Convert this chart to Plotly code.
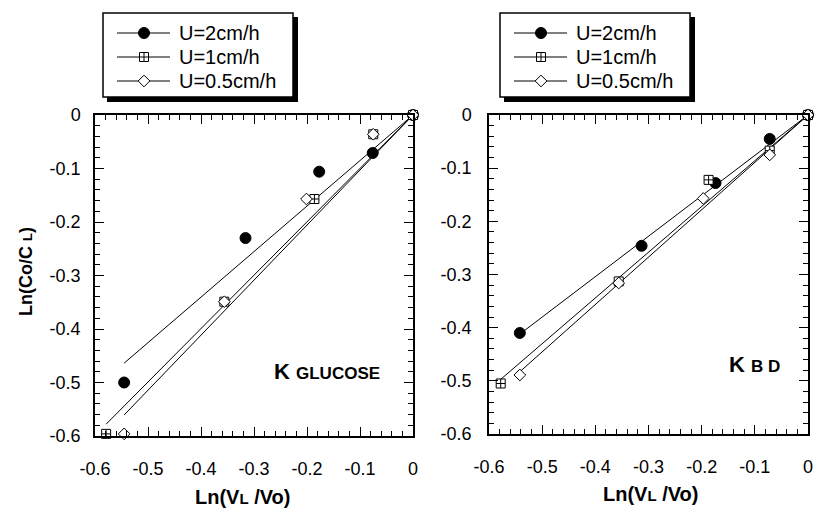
import numpy as np
import plotly.graph_objects as go

# ---- data: Ln(VL/Vo) vs Ln(Co/CL) for three superficial velocities ----
series_names = ["U=2cm/h", "U=1cm/h", "U=0.5cm/h"]

# glucose
glu_x_2cm = [0.0, -0.076, -0.177, -0.316, -0.545]
glu_y_2cm = [0.0, -0.071, -0.106, -0.230, -0.500]
glu_x_1cm = [0.0, -0.075, -0.186, -0.356, -0.579]
glu_y_1cm = [0.0, -0.036, -0.157, -0.349, -0.596]
glu_x_05cm = [0.0, -0.075, -0.201, -0.356, -0.545]
glu_y_05cm = [0.0, -0.036, -0.157, -0.349, -0.596]

# BD
bd_x_2cm = [0.0, -0.072, -0.174, -0.313, -0.542]
bd_y_2cm = [0.0, -0.045, -0.128, -0.246, -0.410]
bd_x_1cm = [0.0, -0.072, -0.187, -0.356, -0.578]
bd_y_1cm = [0.0, -0.067, -0.122, -0.313, -0.505]
bd_x_05cm = [0.0, -0.072, -0.197, -0.356, -0.542]
bd_y_05cm = [0.0, -0.075, -0.157, -0.316, -0.489]

# tick labels use a plain hyphen for the minus sign
tick_alias = {"−0.6": "-0.6", "−0.5": "-0.5", "−0.4": "-0.4",
              "−0.3": "-0.3", "−0.2": "-0.2", "−0.1": "-0.1"}

panels = [
    dict(xs=[glu_x_2cm, glu_x_1cm, glu_x_05cm], ys=[glu_y_2cm, glu_y_1cm, glu_y_05cm],
         xaxis="x", yaxis="y"),
    dict(xs=[bd_x_2cm, bd_x_1cm, bd_x_05cm], ys=[bd_y_2cm, bd_y_1cm, bd_y_05cm],
         xaxis="x2", yaxis="y2"),
]

W, H = 814, 510
FONT = "Liberation Sans, Arial, Helvetica, sans-serif"

marker_styles = [
    dict(symbol="circle", size=11, color="black", line=dict(color="black", width=1)),
    dict(symbol="square-cross", size=9, color="white", line=dict(color="black", width=1)),
    dict(symbol="diamond", size=9, color="white", line=dict(color="black", width=1)),
]

fig = go.Figure()

for p in panels:
    # least-squares lines through the origin (slope = K)
    for xs, ys in zip(p["xs"], p["ys"]):
        x = np.array(xs)
        y = np.array(ys)
        k = float(np.sum(x * y) / np.sum(x * x))
        xl = np.array([x.min(), 0.0])
        fig.add_trace(go.Scatter(x=xl, y=k * xl, mode="lines",
                                 line=dict(color="black", width=1),
                                 xaxis=p["xaxis"], yaxis=p["yaxis"],
                                 showlegend=False, hoverinfo="skip", cliponaxis=False))
    for name, xs, ys, ms in zip(series_names, p["xs"], p["ys"], marker_styles):
        fig.add_trace(go.Scatter(x=xs, y=ys, mode="markers", name=name, marker=ms,
                                 xaxis=p["xaxis"], yaxis=p["yaxis"],
                                 showlegend=False, cliponaxis=False))

# empty traces so the top/right tick axes are laid out
for xa, ya in (("x4", "y"), ("x", "y4"), ("x5", "y2"), ("x2", "y5")):
    fig.add_trace(go.Scatter(x=[], y=[], mode="markers", xaxis=xa, yaxis=ya,
                             showlegend=False, hoverinfo="skip"))


def px_x(v):
    return v / W


def px_y(v):
    return 1 - v / H


def axis_common(**kw):
    d = dict(
        range=[-0.6, 0.0], tickmode="linear", tick0=0, dtick=0.1, labelalias=tick_alias,
        ticks="inside", ticklen=9, tickwidth=1, tickcolor="black",
        showline=True, linewidth=1.5, linecolor="black", mirror="ticks",
        minor=dict(ticks="inside", ticklen=5, tickwidth=1, tickcolor="black",
                   tick0=0, dtick=0.02, showgrid=False),
        showgrid=False, zeroline=False, fixedrange=True, automargin=False,
        tickfont=dict(family=FONT, size=18, color="black"),
    )
    d.update(kw)
    return d


xdom1 = [px_x(95), px_x(413)]
ydom1 = [px_y(436), px_y(115)]
xdom2 = [px_x(489), px_x(808)]
ydom2 = [px_y(434), px_y(115)]

layout = dict(
    width=W, height=H, margin=dict(l=0, r=0, t=0, b=0, pad=0, autoexpand=False),
    paper_bgcolor="white", plot_bgcolor="rgba(0,0,0,0)",
    font=dict(family=FONT, color="black"),
    showlegend=False,
    xaxis=axis_common(domain=xdom1, anchor="y", ticklabelstandoff=16),
    yaxis=axis_common(domain=ydom1, anchor="x", ticklabelstandoff=9),
    xaxis2=axis_common(domain=xdom2, anchor="y2", ticklabelstandoff=16),
    yaxis2=axis_common(domain=ydom2, anchor="x2", ticklabelstandoff=12),
    # top / right frame edges carrying the same inside ticks
    xaxis4=axis_common(domain=xdom1, anchor="y", overlaying="x", side="top",
                       showticklabels=False, mirror=False),
    yaxis4=axis_common(domain=ydom1, anchor="x", overlaying="y", side="right",
                       showticklabels=False, mirror=False),
    xaxis5=axis_common(domain=xdom2, anchor="y2", overlaying="x2", side="top",
                       showticklabels=False, mirror=False),
    yaxis5=axis_common(domain=ydom2, anchor="x2", overlaying="y2", side="right",
                       showticklabels=False, mirror=False),
    # pixel-space overlay used for the legend boxes and text
    xaxis3=dict(domain=[0, 1], range=[0, W], visible=False, fixedrange=True,
                anchor="y3", automargin=False),
    yaxis3=dict(domain=[0, 1], range=[H, 0], visible=False, fixedrange=True,
                anchor="x3", automargin=False),
)
fig.update_layout(**layout)

shapes = []
annotations = []

# legend boxes (with drop shadow), one per panel
for bx in (103, 500):
    shapes.append(dict(type="rect", xref="x3", yref="y3", x0=bx + 4, x1=bx + 195,
                       y0=17, y1=102, fillcolor="black", line=dict(width=0), layer="below"))
    shapes.append(dict(type="rect", xref="x3", yref="y3", x0=bx, x1=bx + 190,
                       y0=13, y1=97, fillcolor="white",
                       line=dict(color="black", width=1.5), layer="below"))
    for row, (name, ms) in enumerate(zip(series_names, marker_styles)):
        ry = 33 + row * 24
        shapes.append(dict(type="line", xref="x3", yref="y3", x0=bx + 14, x1=bx + 67,
                           y0=ry, y1=ry, line=dict(color="black", width=1), layer="below"))
        fig.add_trace(go.Scatter(x=[bx + 41], y=[ry], mode="markers", marker=ms,
                                 xaxis="x3", yaxis="y3", showlegend=False,
                                 hoverinfo="skip", cliponaxis=False))
        annotations.append(dict(xref="x3", yref="y3", x=bx + 74, y=ry, text=name,
                                showarrow=False, xanchor="left", yanchor="middle",
                                font=dict(family=FONT, size=20, color="black")))

# axis titles
annotations.append(dict(xref="x3", yref="y3", x=26, y=272, textangle=-90,
                        text="<b>Ln(Co/C <span style='font-size:13px'>L</span>)</b>",
                        showarrow=False, font=dict(family=FONT, size=18, color="black")))
for cx, cy in ((242, 497), (650, 494)):
    annotations.append(dict(xref="x3", yref="y3", x=cx, y=cy,
                            text="<b>Ln(V<span style='font-size:15px'>L</span> /Vo)</b>",
                            showarrow=False, font=dict(family=FONT, size=20, color="black")))

# panel labels
annotations.append(dict(xref="x3", yref="y3", x=272, y=371, xanchor="left", yanchor="middle",
                        text="<b>K <span style='font-size:17px'>GLUCOSE</span></b>",
                        showarrow=False, font=dict(family=FONT, size=22, color="black")))
annotations.append(dict(xref="x3", yref="y3", x=727, y=364, xanchor="left", yanchor="middle",
                        text="<b>K <span style='font-size:17px'>B D</span></b>",
                        showarrow=False, font=dict(family=FONT, size=22, color="black")))

fig.update_layout(shapes=shapes, annotations=annotations)
fig.write_html("out.html")
